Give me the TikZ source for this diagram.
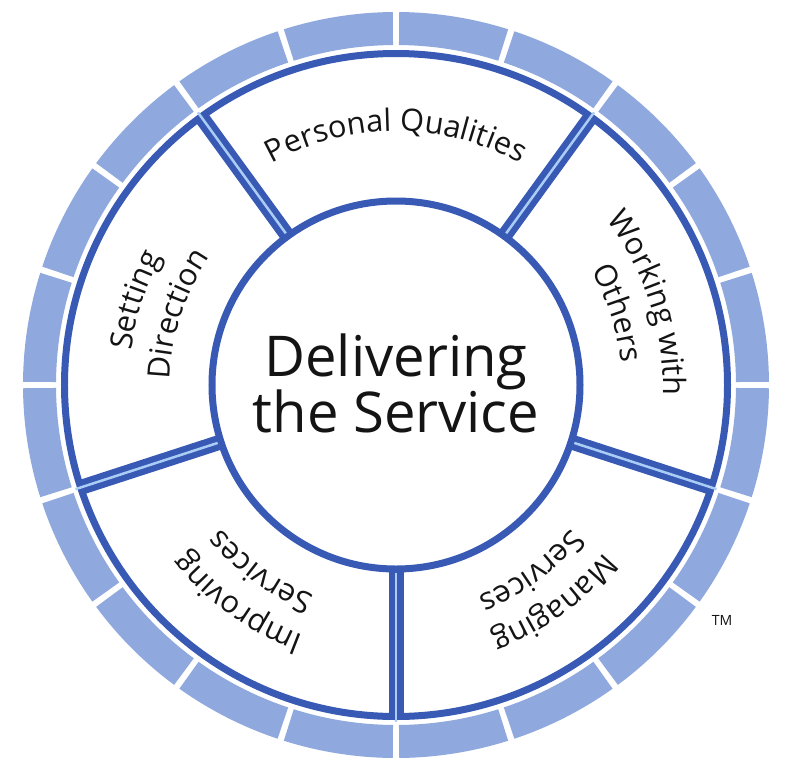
\documentclass[tikz,border=0pt]{standalone}
\usepackage{fontspec}
\setmainfont{Open Sans}
\usetikzlibrary{decorations.text}

\definecolor{wheelblue}{RGB}{56,89,180}
\definecolor{tileblue}{RGB}{143,168,221}
\definecolor{splitblue}{RGB}{170,205,245}
\definecolor{inkgray}{RGB}{20,20,20}

\newcommand{\segfont}{\fontsize{17.5}{20}\selectfont}

\begin{document}
\begin{tikzpicture}[x=0.02cm, y=0.02cm,
    tile/.style={fill=tileblue},
    rim/.style={draw=wheelblue, line width=0.14cm},
    spoke/.style={draw=wheelblue, line width=0.3cm},
    split/.style={draw=splitblue, line width=0.05cm},
    seg text/.style={decorate, decoration={text along path, text align=center,
        text={|\segfont\color{inkgray}|#1}}},
    hub/.style={text=inkgray, font=\fontsize{32}{36}\selectfont, anchor=base}]

    \useasboundingbox[fill=white] (-396,-387) rectangle (391,385);

    % outer ring of tiles
    \foreach \a in {0,18,...,342}
        \fill[tile] (\a+0.5:340) arc[start angle=\a+0.5, end angle=\a+17.5, radius=340]
            -- (\a+17.5:373) arc[start angle=\a+17.5, end angle=\a+0.5, radius=373] -- cycle;

    % wheel
    \fill[white] (0,0) circle[radius=331.5];
    \draw[rim] (0,0) circle[radius=331.5];
    \draw[rim] (0,0) circle[radius=184];
    \foreach \a in {54,126,198,270,342} {
        \draw[spoke] (\a:184) -- (\a:331.5);
        \draw[split] (\a:187.5) -- (\a:337);
    }

    % segment labels
    \path[seg text=Personal Qualities] (130:254) arc[start angle=130, end angle=50, radius=254];
    \path[seg text=Setting] (202:267) arc[start angle=202, end angle=122, radius=267];
    \path[seg text=Direction] (202:226) arc[start angle=202, end angle=122, radius=226];
    \path[seg text=Working with] (58:267) arc[start angle=58, end angle=-22, radius=267];
    \path[seg text=Others] (58:226) arc[start angle=58, end angle=-22, radius=226];
    \path[seg text=Improving] (274:267) arc[start angle=274, end angle=194, radius=267];
    \path[seg text=Services] (274:226) arc[start angle=274, end angle=194, radius=226];
    \path[seg text=Managing] (346:267) arc[start angle=346, end angle=266, radius=267];
    \path[seg text=Services] (346:226) arc[start angle=346, end angle=266, radius=226];

    % hub
    \node[hub] (hubtop) at (0,9) {Delivering};
    \node[hub] (hubbot) at (0,-47) {the Service};

    \node[text=inkgray, font=\fontsize{8}{9}\selectfont] (tm) at (326,-235) {TM};
\end{tikzpicture}
\end{document}
